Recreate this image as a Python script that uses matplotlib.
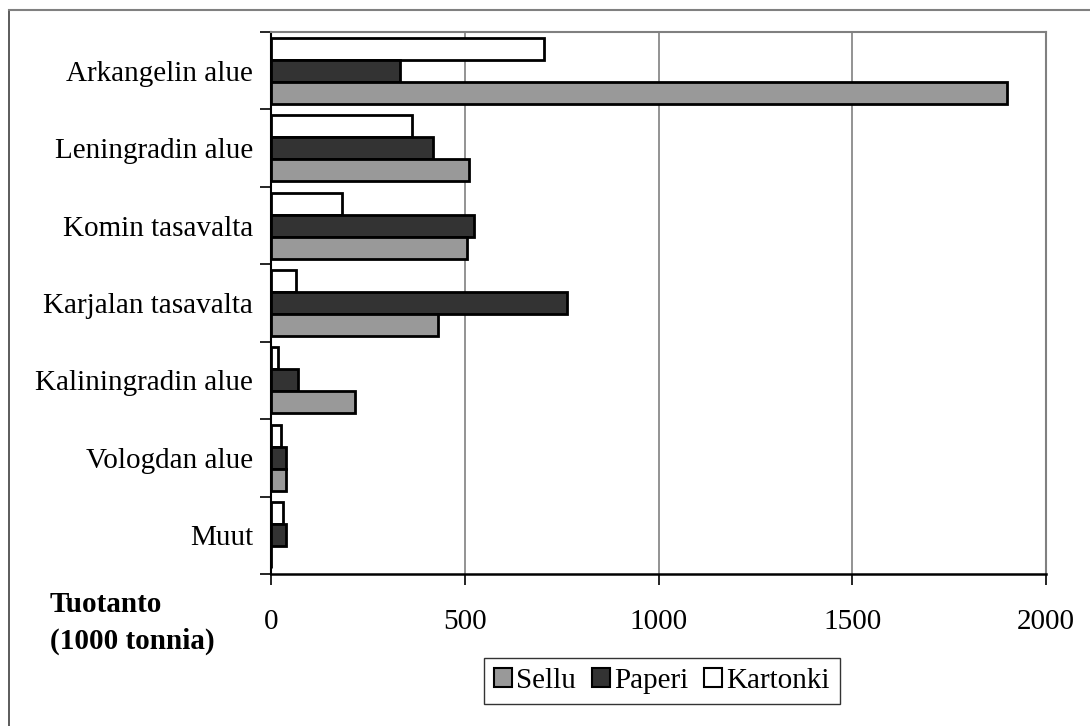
import matplotlib
matplotlib.use("Agg")
import matplotlib.pyplot as plt
import numpy as np
from matplotlib.patches import Patch
from matplotlib.lines import Line2D

# Production by region (1000 tonnes)
regions = ["Arkangelin alue", "Leningradin alue", "Komin tasavalta",
           "Karjalan tasavalta", "Kaliningradin alue", "Vologdan alue", "Muut"]
sellu = [1900, 510, 505, 430, 218, 39, 0]
paperi = [333, 417, 525, 763, 70, 39, 39]
kartonki = [705, 365, 184, 64, 18, 26, 31]
series_names = ["Sellu", "Paperi", "Kartonki"]
x_ticks = [0, 500, 1000, 1500, 2000]

plt.rcParams["font.family"] = ["Liberation Serif", "DejaVu Serif"]
FS = 21

W, H = 1090, 726
fig = plt.figure(figsize=(W / 100, H / 100), dpi=100)
ax = fig.add_axes([271 / W, (H - 574) / H, (1046 - 271) / W, (574 - 32) / H])

colors = {"Sellu": "#999999", "Paperi": "#333333", "Kartonki": "#ffffff"}
bh = 0.284
lw = 2.0
y = np.arange(len(regions))
ax.barh(y - bh, kartonki, height=bh, color=colors["Kartonki"], edgecolor="black", linewidth=lw, zorder=3)
ax.barh(y, paperi, height=bh, color=colors["Paperi"], edgecolor="black", linewidth=lw, zorder=3)
ax.barh(y + bh, sellu, height=bh, color=colors["Sellu"], edgecolor="black", linewidth=lw, zorder=3)

ax.set_xlim(0, 2000)
ax.set_ylim(len(regions) - 0.5, -0.5)

# category boundaries carry the tick marks, names sit between them
ax.set_yticks(np.arange(-0.5, len(regions) + 0.5, 1.0))
ax.set_yticklabels([])
ax.set_yticks(y, minor=True)
ax.set_yticklabels(regions, minor=True, fontsize=FS)
ax.tick_params(axis="y", which="major", length=8, width=1.2, color="black", direction="out")
ax.tick_params(axis="y", which="minor", length=0, pad=13)

ax.set_xticks(x_ticks)
ax.set_xticklabels([str(v) for v in x_ticks], fontsize=FS)
ax.tick_params(axis="x", length=8, width=1.2, color="black", direction="out", pad=17)

ax.grid(axis="x", color="#808080", linewidth=1.2, zorder=0)
ax.set_axisbelow(True)

ax.spines["left"].set_color("black")
ax.spines["left"].set_linewidth(1.5)
ax.spines["bottom"].set_color("black")
ax.spines["bottom"].set_linewidth(1.8)
ax.spines["top"].set_color("#808080")
ax.spines["top"].set_linewidth(1.5)
ax.spines["right"].set_color("#808080")
ax.spines["right"].set_linewidth(1.5)

fig.text(50 / W, 1 - 605 / H, "Tuotanto", fontsize=FS, fontweight="bold", ha="left", va="center")
fig.text(50 / W, 1 - 641 / H, "(1000 tonnia)", fontsize=FS, fontweight="bold", ha="left", va="center")

handles = [Patch(facecolor=colors[n], edgecolor="black", linewidth=1.5) for n in series_names]
leg = fig.legend(handles, series_names, loc="center", bbox_to_anchor=(662 / W, 1 - 681 / H),
                 ncol=3, fontsize=FS, frameon=True, fancybox=False, edgecolor="black",
                 handlelength=0.6, handleheight=0.6, handletextpad=0.15, columnspacing=0.55,
                 borderpad=0.35, borderaxespad=0)
leg.get_frame().set_linewidth(1.0)

# outer frame
fig.add_artist(Line2D([9 / W, 9 / W], [1 - 10 / H, 0], transform=fig.transFigure, color="#404040", linewidth=1.2))
fig.add_artist(Line2D([9 / W, 1], [1 - 10 / H, 1 - 10 / H], transform=fig.transFigure, color="#808080", linewidth=1.5))

fig.savefig("out.png", dpi=100)
